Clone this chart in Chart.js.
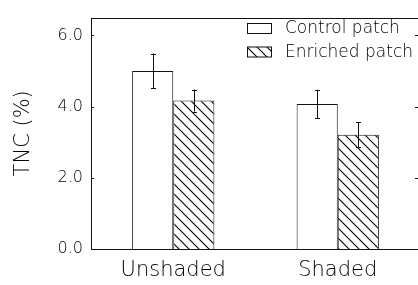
<!DOCTYPE html>
<html><head><meta charset="utf-8">
<script src="https://cdn.jsdelivr.net/npm/chart.js@4/dist/chart.umd.min.js"></script>
<style>html,body{margin:0;padding:0;overflow:hidden;background:#fff;width:418px;height:285px}canvas{display:block}</style>
</head><body><canvas id="c" width="424" height="285"></canvas>
<script>
const categories = ['Unshaded', 'Shaded'];
const seriesLabels = ['Control patch', 'Enriched patch'];
const controlValues = [5.00, 4.07];
const enrichedValues = [4.17, 3.21];
const controlErrors = [0.49, 0.40];
const enrichedErrors = [0.31, 0.35];
const yTickValues = [0, 2, 4, 6];
const yAxisTitle = 'TNC (%)';

const FONT = "'DejaVu Sans', sans-serif";
const INK = '#111';
const TXT = '#000';
const WEIGHT = 200;

function makeHatch() {
  const s = 10;
  const p = document.createElement('canvas');
  p.width = s; p.height = s;
  const g = p.getContext('2d');
  g.fillStyle = '#fff'; g.fillRect(0, 0, s, s);
  g.strokeStyle = '#000'; g.lineWidth = 1.1;
  g.beginPath();
  g.moveTo(-1, -1); g.lineTo(s + 1, s + 1);
  g.moveTo(s - 1, -1); g.lineTo(s + 1, 1);
  g.moveTo(-1, s - 1); g.lineTo(1, s + 1);
  g.stroke();
  return document.getElementById('c').getContext('2d').createPattern(p, 'repeat');
}
const hatch = makeHatch();

const framePlugin = {
  id: 'frame',
  afterDraw(chart) {
    const {ctx, chartArea: a, scales: {y}} = chart;
    ctx.save();
    ctx.strokeStyle = INK; ctx.lineWidth = 1;
    ctx.strokeRect(Math.round(a.left) + 0.5, Math.round(a.top) + 0.5, Math.round(a.right - a.left), Math.round(a.bottom - a.top));
    ctx.beginPath();
    y.ticks.forEach(t => {
      const py = Math.round(y.getPixelForValue(t.value)) + 0.5;
      ctx.moveTo(a.left, py); ctx.lineTo(a.left + 3, py);
      ctx.moveTo(a.right, py); ctx.lineTo(a.right - 5, py);
    });
    ctx.stroke();
    ctx.restore();
  }
};

const errorPlugin = {
  id: 'errs',
  afterDatasetsDraw(chart) {
    const {ctx, scales: {y}} = chart;
    ctx.save();
    ctx.strokeStyle = INK; ctx.lineWidth = 1;
    chart.data.datasets.forEach((ds, i) => {
      chart.getDatasetMeta(i).data.forEach((bar, j) => {
        const v = ds.data[j], e = ds.errors[j];
        const x = Math.round(bar.x) + 0.5;
        const t = y.getPixelForValue(v + e), b = y.getPixelForValue(v - e);
        ctx.beginPath();
        ctx.moveTo(x, t); ctx.lineTo(x, b);
        ctx.moveTo(x - 2.5, Math.round(t) + 0.5); ctx.lineTo(x + 2.5, Math.round(t) + 0.5);
        ctx.moveTo(x - 2.5, Math.round(b) + 0.5); ctx.lineTo(x + 2.5, Math.round(b) + 0.5);
        ctx.stroke();
      });
    });
    ctx.restore();
  }
};

const legendPlugin = {
  id: 'boxLegend',
  afterDraw(chart) {
    const ctx = chart.ctx;
    ctx.save();
    ctx.font = WEIGHT + ' 17px ' + FONT;
    ctx.textBaseline = 'middle';
    ctx.textAlign = 'left';
    chart.data.datasets.forEach((ds, i) => {
      const x = 247.5, y = 23.5 + i * 23.5;
      ctx.fillStyle = ds.backgroundColor;
      ctx.fillRect(x, y, 24, 10);
      ctx.strokeStyle = INK; ctx.lineWidth = 1;
      ctx.strokeRect(x, y, 24, 10);
      ctx.fillStyle = TXT;
      ctx.fillText(ds.label, 285, y + 5.5);
    });
    ctx.restore();
  }
};

new Chart(document.getElementById('c'), {
  type: 'bar',
  data: {
    labels: categories,
    datasets: [
      {label: seriesLabels[0], data: controlValues, errors: controlErrors, backgroundColor: '#fff', borderColor: INK, borderWidth: 1, borderSkipped: 'bottom'},
      {label: seriesLabels[1], data: enrichedValues, errors: enrichedErrors, backgroundColor: hatch, borderColor: INK, borderWidth: 1, borderSkipped: 'bottom'}
    ]
  },
  options: {
    responsive: false,
    animation: false,
    devicePixelRatio: 1,
    layout: {padding: {top: 8, right: 4, left: 0, bottom: 0}},
    datasets: {bar: {categoryPercentage: 0.5, barPercentage: 1.0}},
    plugins: {legend: {display: false}, tooltip: {enabled: false}},
    scales: {
      x: {
        grid: {display: false, drawTicks: false},
        border: {display: false},
        ticks: {font: {family: FONT, size: 21, weight: WEIGHT}, color: TXT, padding: 9},
        afterFit(s) { s.height = 36; }
      },
      y: {
        min: 0, max: 6.5,
        grid: {display: false, drawTicks: false},
        border: {display: false},
        afterBuildTicks(s) { s.ticks = yTickValues.map(v => ({value: v})); },
        ticks: {font: {family: FONT, size: 16, weight: WEIGHT}, color: TXT, padding: 8, callback: v => Number(v).toFixed(1)},
        title: {display: true, text: yAxisTitle, font: {family: FONT, size: 21, weight: WEIGHT}, color: TXT, padding: {top: 11, bottom: 0}},
        afterFit(s) { s.width = 91; }
      }
    }
  },
  plugins: [framePlugin, errorPlugin, legendPlugin]
});
</script>
</body></html>
